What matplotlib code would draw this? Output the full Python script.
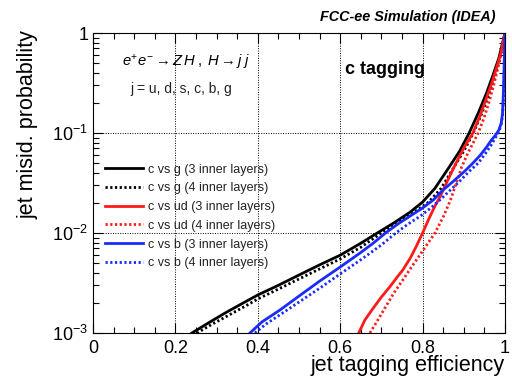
import matplotlib
matplotlib.use('Agg')
import matplotlib.pyplot as plt
import matplotlib.ticker as mticker

plt.rcParams['font.family'] = ['Liberation Sans', 'DejaVu Sans']
plt.rcParams['mathtext.fontset'] = 'custom'
plt.rcParams['mathtext.rm'] = 'Liberation Sans'
plt.rcParams['mathtext.it'] = 'Liberation Sans:italic'
plt.rcParams['mathtext.bf'] = 'Liberation Sans:bold'

# ---------------- data (efficiency, misid) ----------------
g3_eff = [0.24, 0.28, 0.32, 0.36, 0.40, 0.45, 0.50, 0.55, 0.60, 0.65, 0.69, 0.73, 0.77, 0.80,
          0.83, 0.862, 0.89, 0.913, 0.935, 0.955, 0.97, 0.985, 1.0]
g3_mis = [1e-3, 1.26e-3, 1.58e-3, 1.95e-3, 2.4e-3, 3.0e-3, 3.8e-3, 4.8e-3, 6.0e-3, 7.9e-3, 1e-2, 1.26e-2,
          1.62e-2, 2.04e-2, 2.8e-2, 4.4e-2, 6.6e-2, 0.1, 0.158, 0.25, 0.37, 0.56, 1.0]

g4_eff = [0.252, 0.29, 0.33, 0.37, 0.40, 0.45, 0.50, 0.55, 0.60, 0.65, 0.70, 0.74, 0.78, 0.815,
          0.845, 0.874, 0.90, 0.923, 0.944, 0.962, 0.975, 0.988, 1.0]
g4_mis = [1e-3, 1.23e-3, 1.51e-3, 1.86e-3, 2.19e-3, 2.75e-3, 3.47e-3, 4.37e-3, 5.5e-3, 7.2e-3, 1e-2, 1.26e-2,
          1.62e-2, 2.04e-2, 2.8e-2, 4.4e-2, 6.6e-2, 0.1, 0.158, 0.25, 0.37, 0.56, 1.0]

ud3_eff = [0.645, 0.66, 0.677, 0.70, 0.72, 0.74, 0.752, 0.77, 0.785, 0.80, 0.815, 0.83, 0.842, 0.86,
           0.879, 0.90, 0.922, 0.94, 0.955, 0.968, 0.98, 0.99, 1.0]
ud3_mis = [1e-3, 1.35e-3, 1.7e-3, 2.29e-3, 2.88e-3, 3.7e-3, 4.27e-3, 5.6e-3, 7.4e-3, 1e-2, 1.38e-2, 1.86e-2,
           2.29e-2, 3.3e-2, 4.8e-2, 7.1e-2, 0.1, 0.151, 0.224, 0.316, 0.457, 0.63, 1.0]

ud4_eff = [0.672, 0.69, 0.71, 0.73, 0.75, 0.77, 0.79, 0.81, 0.83, 0.85, 0.867, 0.88, 0.895, 0.91,
           0.935, 0.95, 0.962, 0.972, 0.982, 0.991, 1.0]
ud4_mis = [1e-3, 1.32e-3, 1.82e-3, 2.5e-3, 3.3e-3, 4.37e-3, 5.75e-3, 7.6e-3, 1e-2, 1.45e-2, 2.1e-2, 3.0e-2,
           4.6e-2, 6.3e-2, 0.1, 0.145, 0.209, 0.295, 0.437, 0.63, 1.0]

b3_eff = [0.381, 0.41, 0.454, 0.50, 0.55, 0.60, 0.648, 0.68, 0.71, 0.74, 0.77, 0.80, 0.826, 0.85,
          0.875, 0.90, 0.92, 0.94, 0.955, 0.967, 0.977, 0.985, 0.991, 0.994, 0.996, 0.998, 1.0]
b3_mis = [1e-3, 1.29e-3, 1.7e-3, 2.34e-3, 3.3e-3, 4.57e-3, 6.3e-3, 7.9e-3, 1e-2, 1.23e-2, 1.48e-2, 1.78e-2,
          2.14e-2, 2.7e-2, 3.3e-2, 4.07e-2, 4.9e-2, 6.0e-2, 7.2e-2, 8.5e-2, 9.5e-2, 0.107, 0.126, 0.158,
          0.25, 0.5, 1.0]

b4_eff = [0.393, 0.42, 0.46, 0.50, 0.55, 0.60, 0.65, 0.70, 0.735, 0.765, 0.795, 0.82, 0.842, 0.865,
          0.89, 0.915, 0.935, 0.952, 0.965, 0.975, 0.983, 0.99, 0.994, 0.997, 0.999, 1.0]
b4_mis = [1e-3, 1.23e-3, 1.58e-3, 2.04e-3, 2.8e-3, 3.9e-3, 5.4e-3, 7.6e-3, 1e-2, 1.23e-2, 1.48e-2, 1.78e-2,
          2.14e-2, 2.63e-2, 3.3e-2, 4.2e-2, 5.0e-2, 6.2e-2, 7.4e-2, 8.7e-2, 0.1, 0.117, 0.148, 0.25,
          0.5, 1.0]

labels = ['c vs g (3 inner layers)', 'c vs g (4 inner layers)',
          'c vs ud (3 inner layers)', 'c vs ud (4 inner layers)',
          'c vs b (3 inner layers)', 'c vs b (4 inner layers)']

x_ticks = [0, 0.2, 0.4, 0.6, 0.8, 1]
x_ticklabels = ['0', '0.2', '0.4', '0.6', '0.8', '1']
y_ticks = [1e-3, 1e-2, 1e-1, 1]
y_ticklabels = ['$10^{-3}$', '$10^{-2}$', '$10^{-1}$', '1']

# ---------------- plot ----------------
fig = plt.figure(figsize=(5.12, 3.77), dpi=100)
ax = fig.add_axes([93/512, 1 - 333/377, 412/512, 300/377])

dot = (0, (0.8, 0.9))
curves = [(g3_eff, g3_mis, 'black', '-'), (g4_eff, g4_mis, 'black', dot),
          (ud3_eff, ud3_mis, '#ff1a1a', '-'), (ud4_eff, ud4_mis, '#ff1a1a', dot),
          (b3_eff, b3_mis, '#1a2bff', '-'), (b4_eff, b4_mis, '#1a2bff', dot)]
for (xe, ym, col, ls), lab in zip(curves, labels):
    ax.plot(xe, ym, color=col, linestyle=ls, lw=2.0, label=lab)

ax.set_yscale('log')
ax.set_xlim(0, 1)
ax.set_ylim(1e-3, 1)

ax.set_xticks(x_ticks)
ax.set_xticklabels(x_ticklabels)
ax.xaxis.set_minor_locator(mticker.MultipleLocator(0.05))
ax.yaxis.set_major_locator(mticker.FixedLocator(y_ticks))
ax.yaxis.set_major_formatter(mticker.FixedFormatter(y_ticklabels))
ax.yaxis.set_minor_locator(mticker.LogLocator(base=10, subs=range(2, 10)))
ax.yaxis.set_minor_formatter(mticker.NullFormatter())

ax.tick_params(which='both', direction='in', top=True, right=True, labelsize=13, width=0.8)
ax.tick_params(which='major', length=7)
ax.tick_params(which='minor', length=4)
ax.tick_params(axis='x', pad=5)
for sp in ax.spines.values():
    sp.set_linewidth(0.8)

ax.grid(which='major', linestyle=(0, (1, 1.5)), color='black', lw=0.7)

# legend
leg = ax.legend(loc='upper left', bbox_to_anchor=(0.03, 0.565), frameon=False, fontsize=9,
                handlelength=3.0, handletextpad=0.4, labelspacing=0.54, borderpad=0, borderaxespad=0)
for t in leg.get_texts():
    t.set_color('#222222')

# texts
fig.text(495/512, 1 - 17/377, 'FCC-ee Simulation (IDEA)', ha='right', va='center',
         fontsize=10.4, fontweight='bold', fontstyle='italic')
fig.text(122/512, 1 - 62/377, r'$e^{+}e^{-} \rightarrow Z\,H\;,\;H \rightarrow j\;j$',
         ha='left', va='center', fontsize=10.6)
fig.text(130/512, 1 - 89/377, 'j = u, d, s, c, b, g', ha='left', va='center', fontsize=10, color='#222222')
fig.text(345/512, 1 - 70/377, 'c tagging', ha='left', va='center', fontsize=13, fontweight='bold')

fig.text(505/512, 1 - 366/377, 'jet tagging efficiency', ha='right', va='center', fontsize=15.5)
fig.text(28/512, 1 - 30/377, 'jet misid. probability', ha='center', va='top',
         rotation=90, fontsize=15.5)

plt.savefig('out.png', dpi=100)
